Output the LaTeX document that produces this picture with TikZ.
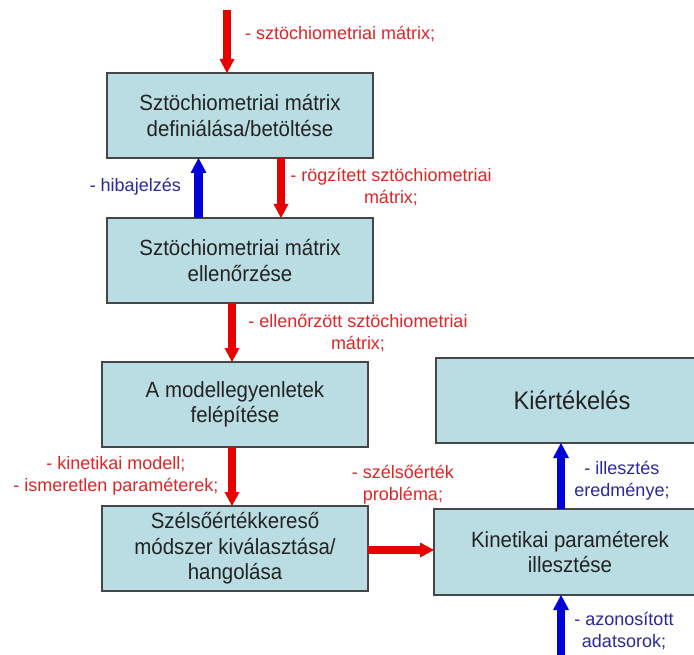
\documentclass[tikz,border=0pt]{standalone}
\usepackage{fontspec}
\setmainfont{Liberation Sans}
\newfontfamily\boxfont[FakeStretch=0.93]{Liberation Sans}
\usetikzlibrary{arrows.meta}
\definecolor{boxfill}{RGB}{185,221,226}
\definecolor{boxline}{RGB}{70,70,70}
\definecolor{boxtext}{RGB}{35,35,35}
\definecolor{arrred}{RGB}{230,0,0}
\definecolor{arrblue}{RGB}{0,0,220}
\definecolor{lblred}{RGB}{222,38,38}
\definecolor{lblblue}{RGB}{40,40,160}
\begin{document}
\begin{tikzpicture}[x=1pt,y=-1pt,
  box/.style={draw=boxline, line width=1.3pt, fill=boxfill, text=boxtext, align=center,
    minimum width=266pt, minimum height=85pt, inner sep=0pt, outer sep=0pt,
    font=\boxfont\fontsize{22}{25.5}\selectfont},
  redarr/.style={draw=arrred, line width=8pt,
    -{Triangle[length=14pt,width=15pt,line width=0pt]}},
  bluearr/.style={draw=arrblue, line width=8.5pt,
    -{Triangle[length=15pt,width=16pt,line width=0pt]}},
  lblr/.style={text=lblred, align=center, inner sep=0pt, font=\fontsize{18}{22}\selectfont},
  lblb/.style={text=lblblue, align=center, inner sep=0pt, font=\fontsize{18}{22}\selectfont}]
\clip (0,0) rectangle (694,655);
\fill[white] (0,0) rectangle (694,655);

% boxes
\node[box] (b1) at (240,115.5) {Sztöchiometriai mátrix\\definiálása/betöltése};
\node[box] (b2) at (240,260.5) {Sztöchiometriai mátrix\\ellenőrzése};
\node[box] (b3) at (235,404.5) {A modellegyenletek\\felépítése};
\node[box] (b4) at (235,548.5) {Szélsőértékkereső\\módszer kiválasztása/\\hangolása};
\node[box, minimum width=272pt, font=\boxfont\fontsize{25.4}{28}\selectfont] (b5) at (572,400.5) {Kiértékelés};
\node[box, minimum width=272pt, minimum height=86pt] (b6) at (570,552) {Kinetikai paraméterek\\illesztése};

% helper coordinates
\coordinate (top) at (227,10);
\coordinate (xb) at (198.5,0);
\coordinate (xc) at (281,0);
\coordinate (xd) at (232,0);
\coordinate (yh) at (0,550);
\coordinate (xe) at (561,0);
\coordinate (bot) at (561,665);

% connectors
\draw[redarr] (top) -- (b1.north -| top);
\draw[bluearr] (b2.north -| xb) -- (b1.south -| xb);
\draw[redarr] (b1.south -| xc) -- (b2.north -| xc);
\draw[redarr] (b2.south -| xd) -- (b3.north -| xd);
\draw[redarr] (b3.south -| xd) -- (b4.north -| xd);
\draw[redarr] (b4.east |- yh) -- (b6.west |- yh);
\draw[bluearr] (b6.north -| xe) -- (b5.south -| xe);
\draw[bluearr] (bot) -- (b6.south -| xe);

% labels
\node[lblr, anchor=west] (l1) at (245,34) {- sztöchiometriai mátrix;};
\node[lblb, anchor=east] (l2) at (181,187) {- hibajelzés};
\node[lblr] (l3) at (391,187.5) {- rögzített sztöchiometriai\\mátrix;};
\node[lblr] (l4) at (358,333) {- ellenőrzött sztöchiometriai\\mátrix;};
\node[lblr] (l5) at (116,476) {- kinetikai modell;\\- ismeretlen paraméterek;};
\node[lblr] (l6) at (403,485) {- szélsőérték\\probléma;};
\node[lblb] (l7) at (622,481) {- illesztés\\eredménye;};
\node[lblb] (l8) at (624,631) {- azonosított\\adatsorok;};
\end{tikzpicture}
\end{document}
